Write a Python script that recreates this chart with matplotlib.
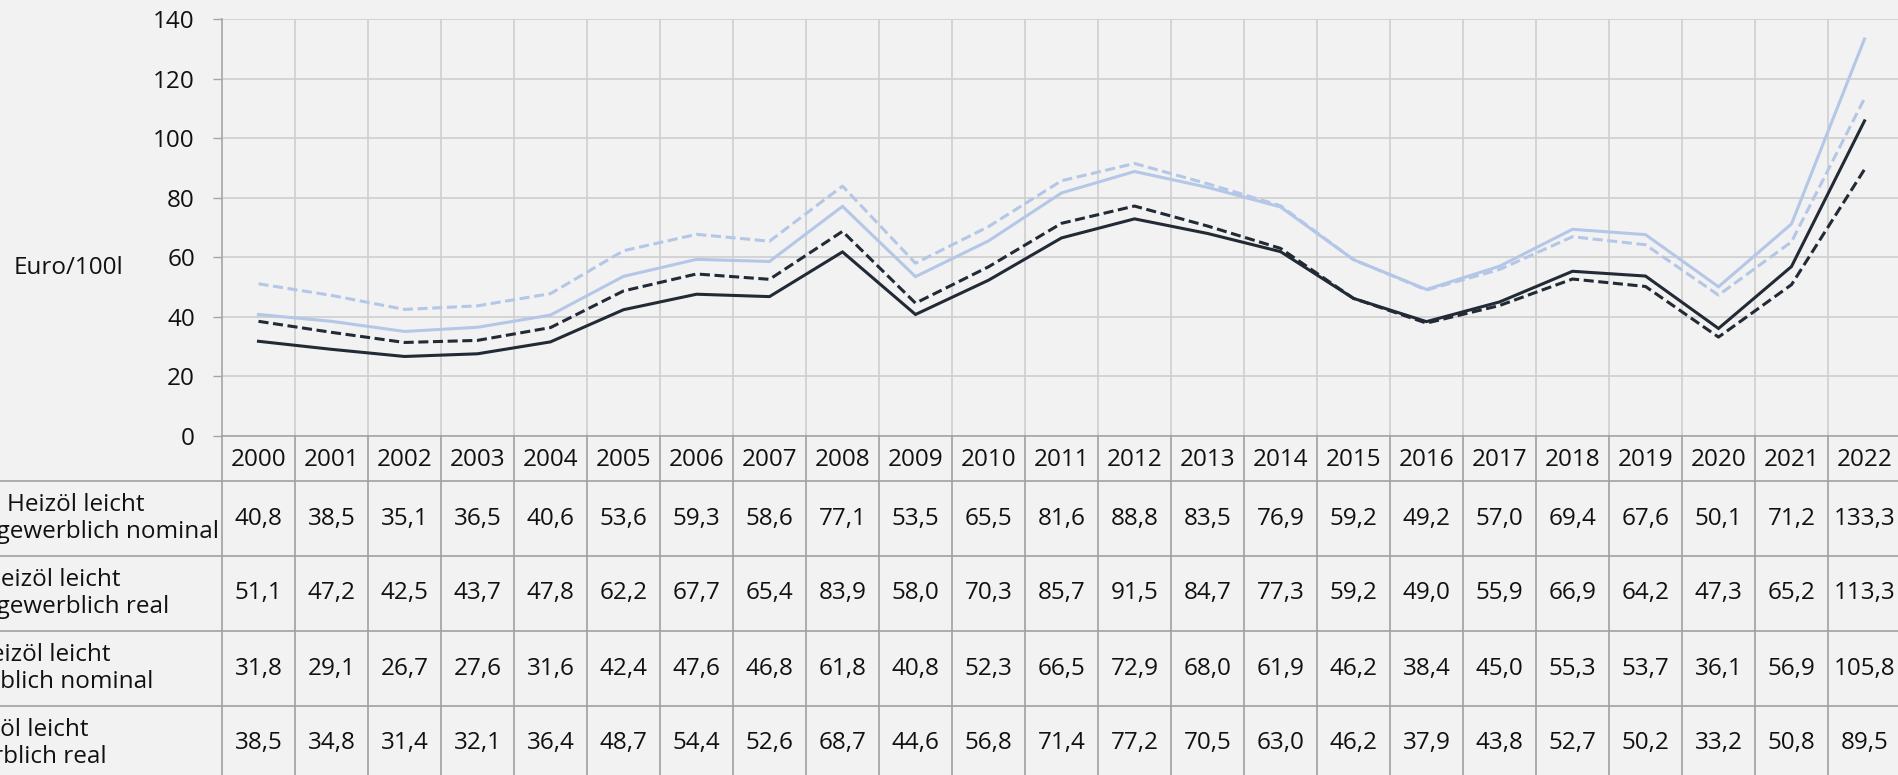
import matplotlib.pyplot as plt
from matplotlib.transforms import blended_transform_factory

# Heizöl leicht prices, Euro per 100 litres
years = list(range(2000, 2023))
series_names = [
    "Heizöl leicht\nnicht gewerblich nominal",
    "Heizöl leicht\nnicht gewerblich real",
    "Heizöl leicht\ngewerblich nominal",
    "Heizöl leicht\ngewerblich real",
]
nicht_gew_nominal = [40.8, 38.5, 35.1, 36.5, 40.6, 53.6, 59.3, 58.6, 77.1, 53.5, 65.5, 81.6,
                     88.8, 83.5, 76.9, 59.2, 49.2, 57.0, 69.4, 67.6, 50.1, 71.2, 133.3]
nicht_gew_real = [51.1, 47.2, 42.5, 43.7, 47.8, 62.2, 67.7, 65.4, 83.9, 58.0, 70.3, 85.7,
                  91.5, 84.7, 77.3, 59.2, 49.0, 55.9, 66.9, 64.2, 47.3, 65.2, 113.3]
gew_nominal = [31.8, 29.1, 26.7, 27.6, 31.6, 42.4, 47.6, 46.8, 61.8, 40.8, 52.3, 66.5,
               72.9, 68.0, 61.9, 46.2, 38.4, 45.0, 55.3, 53.7, 36.1, 56.9, 105.8]
gew_real = [38.5, 34.8, 31.4, 32.1, 36.4, 48.7, 54.4, 52.6, 68.7, 44.6, 56.8, 71.4,
            77.2, 70.5, 63.0, 46.2, 37.9, 43.8, 52.7, 50.2, 33.2, 50.8, 89.5]
series = [nicht_gew_nominal, nicht_gew_real, gew_nominal, gew_real]

BG = "#f2f2f2"
LIGHT = "#b4c7e7"
DARK = "#222a35"
styles = [(LIGHT, "-"), (LIGHT, "--"), (DARK, "-"), (DARK, "--")]

plt.rcParams["font.family"] = ["Open Sans", "DejaVu Sans"]
FS = 17.5
TXT = "#111111"

W, H = 1898, 775
fig = plt.figure(figsize=(W / 100, H / 100), dpi=100, facecolor=BG)


def box(x0, y0, x1, y1):
    # pixel box (top-left origin) -> figure fraction rect
    return [x0 / W, 1 - y1 / H, (x1 - x0) / W, (y1 - y0) / H]


n = len(years)
x = list(range(n))

# chart area
ax = fig.add_axes(box(222, 19, 1901, 436))
ax.set_facecolor(BG)
ax.set_xlim(-0.5, n - 0.5)
ax.set_ylim(0, 140)
ax.set_yticks(range(0, 141, 20))
ax.set_xticks([i - 0.5 for i in range(1, n)])
ax.tick_params(axis="x", length=0, labelbottom=False)
ax.tick_params(axis="y", length=6.5, width=1, color="#a6a6a6", pad=13,
               labelsize=FS, labelcolor=TXT)
ax.grid(True, color="#cfcfcf", lw=1.2)
ax.set_axisbelow(True)
for s in ["top", "right"]:
    ax.spines[s].set_visible(False)
for s in ["left", "bottom"]:
    ax.spines[s].set_color("#a6a6a6")
    ax.spines[s].set_linewidth(1.2)

for vals, (c, ls) in zip(series, styles):
    line, = ax.plot(x, vals, color=c, lw=2.2, ls=ls, solid_joinstyle="miter")
    if ls == "--":
        line.set_dashes((3.3, 1.5))
        line.set_dash_capstyle("butt")

fig.text(14 / W, 1 - 268 / H, "Euro/100l", fontsize=FS, color=TXT,
         ha="left", va="center")

# data table below the chart
tab = fig.add_axes(box(222, 436, 1901, 781))
tab.set_xlim(-0.5, n - 0.5)
tab.set_ylim(781, 436)
tab.axis("off")

grid_c = "#a0a0a0"
row_edges = [436, 481, 556, 631, 706, 781]
full = blended_transform_factory(fig.transFigure, tab.transData)
for y in row_edges[1:-1]:
    tab.plot([0, 1], [y, y], transform=full, color=grid_c, lw=1.2, clip_on=False)
for i in range(n + 1):
    tab.plot([i - 0.5, i - 0.5], [436, 781], color=grid_c, lw=1.2, clip_on=False)

for i, yr in enumerate(years):
    tab.text(i, (row_edges[0] + row_edges[1]) / 2 + 1, str(yr), fontsize=FS,
             color=TXT, ha="center", va="center")

label_cx = [76, 52, 42, 20]
for r, (name, vals) in enumerate(zip(series_names, series)):
    yc = (row_edges[r + 1] + row_edges[r + 2]) / 2
    for i, v in enumerate(vals):
        tab.text(i, yc, f"{v:.1f}".replace(".", ","), fontsize=FS,
                 color=TXT, ha="center", va="center")
    tab.text(label_cx[r] / W, yc, name, transform=full, fontsize=FS,
             color=TXT, ha="center", va="center", multialignment="center",
             linespacing=1.2, clip_on=False)

fig.savefig("out.png", dpi=100, facecolor=BG)
